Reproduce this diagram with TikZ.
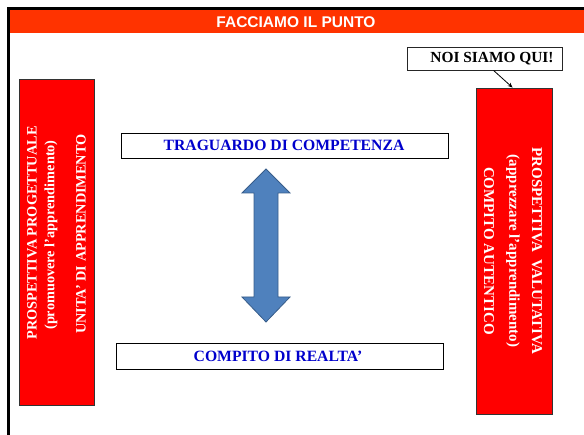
\documentclass[tikz,border=0pt]{standalone}
\usepackage{fontspec}
\setmainfont{Liberation Serif}
\newfontfamily\arialf{Liberation Sans}
\usetikzlibrary{calc,arrows.meta}
\definecolor{barred}{HTML}{FF3300}
\definecolor{boxred}{HTML}{FF0000}
\definecolor{arrowblue}{HTML}{4F81BD}
\definecolor{arrowedge}{HTML}{385D8A}
\definecolor{txtblue}{HTML}{0000CC}
\tikzset{
  redbox/.style={draw=black!80, line width=0.7pt, fill=boxred, inner sep=0},
  whitebox/.style={draw=black, line width=0.9pt, fill=white, inner sep=0},
  vtextl/.style={rotate=90, inner sep=0, text=white, font=\bfseries\fontsize{14.3}{16}\selectfont},
  vtextr/.style={rotate=-90, inner sep=0, text=white, font=\bfseries\fontsize{15}{17}\selectfont},
  bluetext/.style={inner sep=0, text=txtblue, font=\bfseries\fontsize{15.7}{18}\selectfont}
}
\begin{document}
\begin{tikzpicture}[x=1pt,y=-1pt]
\useasboundingbox (0,0) rectangle (584,435);
% frame and title bar
\fill[barred] (10,10) rectangle (590,33);
\draw[line width=3pt] (8.5,445) -- (8.5,8.5) -- (600,8.5);
\node[inner sep=0, text=white, font=\arialf\bfseries\fontsize{15.5}{18}\selectfont] (title) at (296,22) {FACCIAMO IL PUNTO};

% left red box
\node[redbox, minimum width=75, minimum height=326] (lbox) at (56.5,242) {};
\node[vtextl] (l1) at (32,233) {PROSPETTIVA PROGETTUALE};
\node[vtextl] (l2) at (51,235) {(promuovere l’apprendimento)};
\node[vtextl] (l3) at (81,234) {UNITA’ DI APPRENDIMENTO};

% right red box
\node[redbox, minimum width=76, minimum height=326] (rbox) at (514,251) {};
\node[vtextr] (r1) at (537,251) {PROSPETTIVA\ \ VALUTATIVA};
\node[vtextr] (r2) at (513,251) {(apprezzare l’apprendimento)};
\node[vtextr] (r3) at (489,251) {COMPITO AUTENTICO};

% NOI SIAMO QUI
\node[whitebox, draw=black!85, minimum width=155, minimum height=23] (noi) at (484.5,58.5) {};
\node[inner sep=0, font=\bfseries\fontsize{15.4}{17}\selectfont] (noit) at (492,58.5) {NOI SIAMO QUI!};
\draw[line width=0.8pt, -{Stealth[length=5pt,width=4pt]}] ($(noi.south west)+(87,0)$) -- ($(rbox.north west)+(37,0)$);

% white boxes
\node[whitebox, minimum width=327, minimum height=25] (trag) at (284.5,145.5) {};
\node[bluetext] (tragt) at (284,145.5) {TRAGUARDO DI COMPETENZA};
\node[whitebox, minimum width=327, minimum height=26] (comp) at (279.5,356) {};
\node[bluetext] (compt) at (278,356) {COMPITO DI REALTA’};

% double arrow
\draw[fill=arrowblue, draw=arrowedge, line width=0.8pt, line join=miter]
  (266,169) -- (290,193) -- (278,193) -- (278,297) -- (290,297) -- (266,322)
  -- (242,297) -- (254,297) -- (254,193) -- (242,193) -- cycle;
\end{tikzpicture}
\end{document}
